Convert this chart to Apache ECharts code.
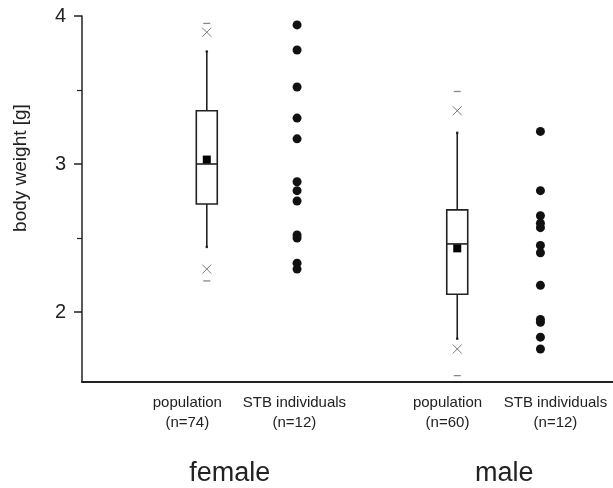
<!DOCTYPE html>
<html>
<head>
<meta charset="utf-8">
<script src="https://cdn.jsdelivr.net/npm/echarts@6/dist/echarts.min.js"></script>
<style>
  html, body { margin: 0; padding: 0; background: #fff; }
  #chart { width: 613px; height: 488px; }
</style>
</head>
<body>
<div id="chart"></div>
<script>
// positions of the four columns on a plain 0..6 x scale
const xPos = { femalePop: 1.41, femaleStb: 2.43, malePop: 4.24, maleStb: 5.18 }

// box: [lower whisker, Q1, median, Q3, upper whisker]
const femaleBox = [2.44, 2.73, 3.00, 3.36, 3.76]
const maleBox = [1.82, 2.12, 2.46, 2.69, 3.21]
const femaleMean = 3.03
const maleMean = 2.43
const femaleOutliers = [3.89, 2.29]   // x marks
const maleOutliers = [3.36, 1.75]
const femaleMinMax = [3.95, 2.21]     // little dashes
const maleMinMax = [3.49, 1.57]

// STB individuals
const femaleStb = [3.94, 3.77, 3.52, 3.31, 3.17, 2.88, 2.82, 2.75, 2.52, 2.50, 2.33, 2.29]
const maleStb = [3.22, 2.82, 2.65, 2.60, 2.57, 2.45, 2.40, 2.18, 1.95, 1.93, 1.83, 1.75]

// axis labels
const majorTicks = [2, 3, 4]
const minorTicks = [2.5, 3.5]
const catLabels = ['population\n(n=74)', 'STB individuals\n(n=12)', 'population\n(n=60)', 'STB individuals\n(n=12)']
const catLabelPos = [1.19, 2.40, 4.13, 5.35]
const groupLabels = ['female', 'male']
const groupLabelPos = [1.67, 4.77]

const FONT = '"Liberation Sans", Arial, sans-serif'
const INK = '#222'

function nearestLabel(v, positions, labels) {
  let best = 0
  positions.forEach((p, i) => {
    if (Math.abs(p - v) < Math.abs(positions[best] - v)) best = i
  })
  return labels[best]
}

function pairs(x, values) {
  return values.map(v => [x, v])
}

const chart = echarts.init(document.getElementById('chart'))

const option = {
  animation: false,
  grid: { left: 82, right: 0, top: 16, bottom: 106 },
  xAxis: [
    {
      type: 'value', min: 0, max: 6, position: 'bottom',
      axisLine: { show: true, lineStyle: { color: INK, width: 2 } },
      axisTick: { show: false },
      splitLine: { show: false },
      axisLabel: {
        customValues: catLabelPos,
        formatter: v => nearestLabel(v, catLabelPos, catLabels),
        fontFamily: FONT, fontSize: 15, lineHeight: 20, color: INK, margin: 11
      }
    },
    {
      type: 'value', min: 0, max: 6, position: 'bottom', offset: 0,
      axisLine: { show: false },
      axisTick: { show: false },
      splitLine: { show: false },
      axisLabel: {
        customValues: groupLabelPos,
        formatter: v => nearestLabel(v, groupLabelPos, groupLabels),
        fontFamily: FONT, fontSize: 27, color: INK, margin: 78
      }
    }
  ],
  yAxis: [
    {
      type: 'value', min: 1.527, max: 4, position: 'left',
      axisLine: { show: true, lineStyle: { color: INK, width: 1.5 } },
      axisTick: { show: true, customValues: majorTicks, length: 8, lineStyle: { color: INK, width: 1.5 } },
      axisLabel: { customValues: majorTicks, fontFamily: FONT, fontSize: 20, color: INK, margin: 16 },
      splitLine: { show: false }
    },
    {
      type: 'value', min: 1.527, max: 4, position: 'left', offset: 0,
      axisLine: { show: false },
      axisTick: { show: true, customValues: minorTicks, length: 5, lineStyle: { color: INK, width: 1.2 } },
      axisLabel: { show: false },
      splitLine: { show: false }
    }
  ],
  graphic: [
    {
      type: 'text', x: 21, y: 168, rotation: Math.PI / 2,
      style: { text: 'body weight [g]', font: '19px ' + FONT, fill: INK, align: 'center', verticalAlign: 'middle' }
    }
  ],
  series: [
    {
      // box plots
      type: 'custom',
      encode: { x: 0, y: [1, 2, 3, 4, 5] },
      data: [[xPos.femalePop].concat(femaleBox), [xPos.malePop].concat(maleBox)],
      renderItem(params, api) {
        const x = api.value(0)
        const lo = api.coord([x, api.value(1)])
        const q1 = api.coord([x, api.value(2)])
        const md = api.coord([x, api.value(3)])
        const q3 = api.coord([x, api.value(4)])
        const hi = api.coord([x, api.value(5)])
        const w = api.size([0.237, 0])[0]
        const st = { stroke: INK, lineWidth: 1.6, fill: null }
        return {
          type: 'group',
          children: [
            { type: 'line', shape: { x1: lo[0], y1: lo[1], x2: q1[0], y2: q1[1] }, style: st },
            { type: 'line', shape: { x1: q3[0], y1: q3[1], x2: hi[0], y2: hi[1] }, style: st },
            { type: 'rect', shape: { x: q3[0] - w / 2, y: q3[1], width: w, height: q1[1] - q3[1] }, style: { stroke: INK, lineWidth: 1.6, fill: '#fff' } },
            { type: 'line', shape: { x1: md[0] - w / 2, y1: md[1], x2: md[0] + w / 2, y2: md[1] }, style: st },
            { type: 'circle', shape: { cx: lo[0], cy: lo[1], r: 1.3 }, style: { fill: INK } },
            { type: 'circle', shape: { cx: hi[0], cy: hi[1], r: 1.3 }, style: { fill: INK } }
          ]
        }
      }
    },
    {
      // means
      type: 'scatter', z: 5,
      symbol: 'rect', symbolSize: 8,
      itemStyle: { color: '#000', opacity: 1 },
      data: [[xPos.femalePop, femaleMean], [xPos.malePop, maleMean]]
    },
    {
      // outliers (x marks)
      type: 'scatter', z: 5,
      symbol: 'path://M0,0L10,10M10,0L0,10', symbolSize: 9,
      itemStyle: { color: 'none', borderColor: '#777', borderWidth: 1, opacity: 1 },
      data: pairs(xPos.femalePop, femaleOutliers).concat(pairs(xPos.malePop, maleOutliers))
    },
    {
      // min / max dashes
      type: 'scatter', z: 5,
      symbol: 'rect', symbolSize: [7, 1.3],
      itemStyle: { color: '#888', opacity: 1 },
      data: pairs(xPos.femalePop, femaleMinMax).concat(pairs(xPos.malePop, maleMinMax))
    },
    {
      // STB individuals
      type: 'scatter', z: 5,
      symbol: 'circle', symbolSize: 9,
      itemStyle: { color: '#111', opacity: 1 },
      data: pairs(xPos.femaleStb, femaleStb).concat(pairs(xPos.maleStb, maleStb))
    }
  ]
}

chart.setOption(option)
</script>
</body>
</html>
